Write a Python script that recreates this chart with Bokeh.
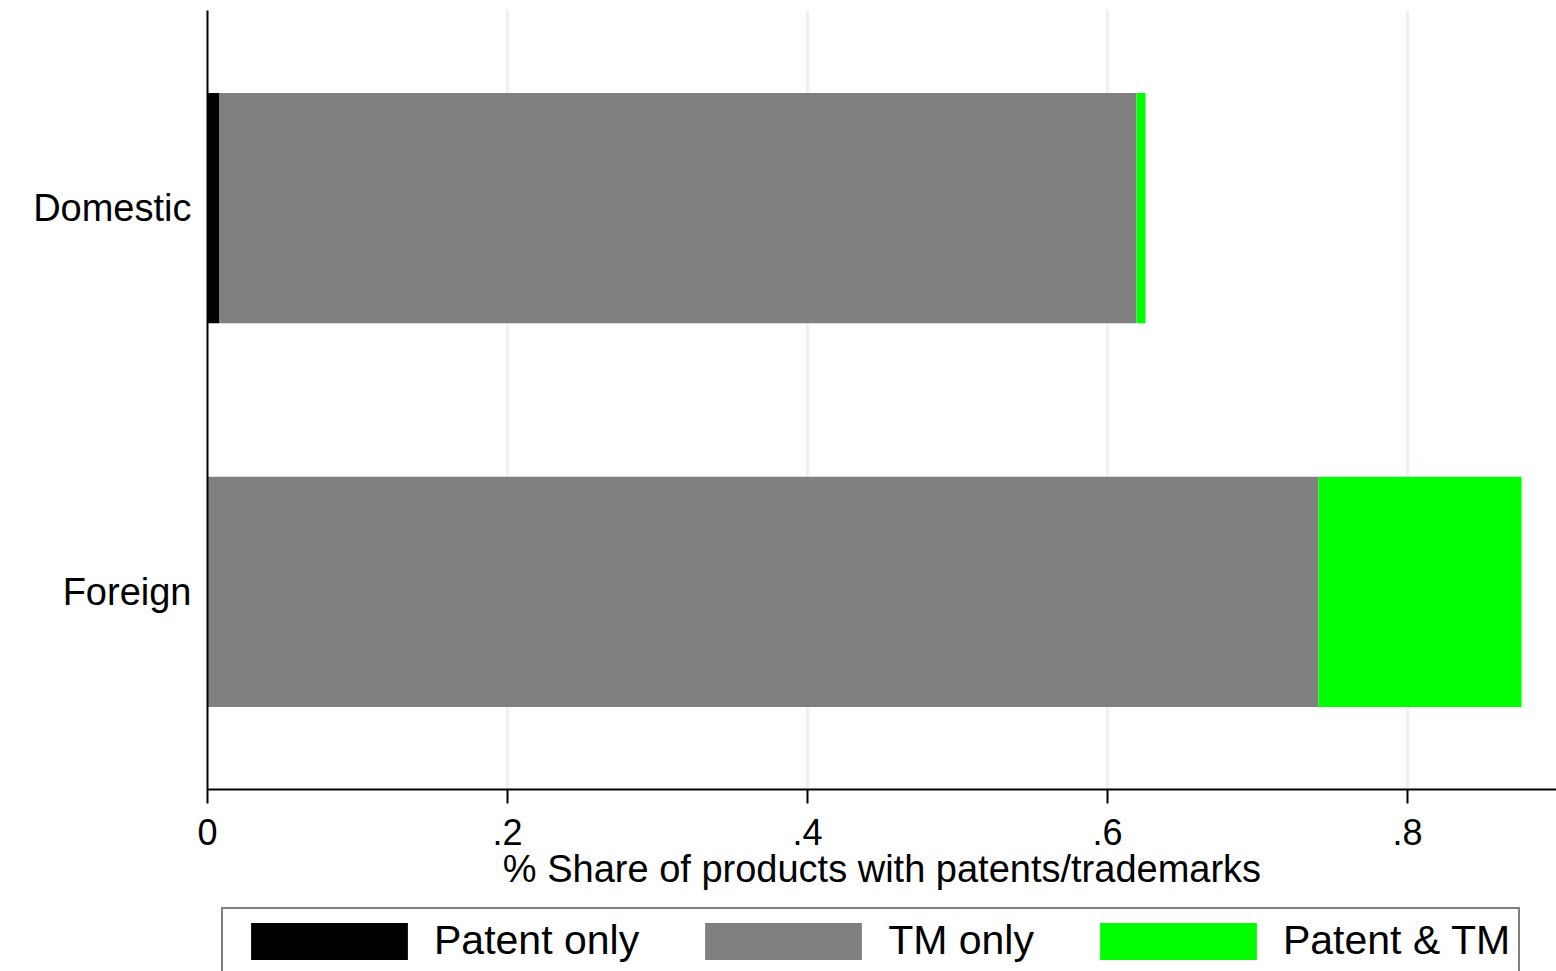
from bokeh.plotting import figure
from bokeh.layouts import column
from bokeh.models import (ColumnDataSource, FactorRange, Range1d, FixedTicker,
                          Legend, LegendItem)
from bokeh.embed import file_html
from bokeh.resources import INLINE

# ---- data ----
categories = ["Domestic", "Foreign"]
patent_only = [0.008, 0.0]
tm_only = [0.6113, 0.7407]
patent_and_tm = [0.006, 0.1353]
series_names = ["Patent only", "TM only", "Patent & TM"]
series_colors = ["#000000", "#808080", "#00ff00"]
x_ticks = [0, 0.2, 0.4, 0.6, 0.8]
x_tick_labels = ["0", ".2", ".4", ".6", ".8"]
x_title = "% Share of products with patents/trademarks"

FONT = "Liberation Sans"
W = 1556
H_MAIN = 907
H_LEG = 64

source = ColumnDataSource(dict(
    cat=categories,
    **{series_names[0]: patent_only,
       series_names[1]: tm_only,
       series_names[2]: patent_and_tm}
))

p = figure(
    width=W, height=H_MAIN,
    x_range=Range1d(0, 0.8993),
    y_range=FactorRange(factors=["Foreign", "Domestic"], range_padding=0.015),
    output_backend="svg", toolbar_location=None,
    min_border_left=207, min_border_right=0, min_border_top=10,
    min_border_bottom=H_MAIN - 789,
)
p.outline_line_color = None
p.background_fill_color = "white"
p.border_fill_color = "white"

renderers = p.hbar_stack(series_names, y="cat", height=0.6, color=series_colors,
                         line_color=None, source=source)

# x axis
ticker = FixedTicker(ticks=x_ticks)
xa = p.xaxis[0]
xa.ticker = ticker
xa.major_label_overrides = {t: l for t, l in zip(x_ticks, x_tick_labels)}
xa.minor_tick_line_color = None
xa.major_tick_in = 0
xa.major_tick_out = 14
xa.major_tick_line_width = 2
xa.axis_line_width = 2
xa.axis_line_color = "black"
xa.major_tick_line_color = "black"
xa.major_label_text_font = FONT
xa.major_label_text_font_size = "36px"
xa.major_label_text_color = "black"
xa.major_label_standoff = 15
xa.axis_label = x_title
xa.axis_label_text_font = FONT
xa.axis_label_text_font_size = "38px"
xa.axis_label_text_font_style = "normal"
xa.axis_label_text_color = "black"
xa.axis_label_standoff = 0

# y axis
ya = p.yaxis[0]
ya.major_tick_out = 0
ya.major_tick_in = 0
ya.minor_tick_line_color = None
ya.axis_line_width = 2
ya.axis_line_color = "black"
ya.major_label_text_font = FONT
ya.major_label_text_font_size = "38px"
ya.major_label_text_color = "black"
ya.major_label_standoff = 16

# grid
p.ygrid.grid_line_color = None
p.xgrid.ticker = ticker
p.xgrid.grid_line_color = "#eaf2f3"
p.xgrid.grid_line_width = 3

# ---- legend strip (below the axis title) ----
pl = figure(
    width=W, height=H_LEG, x_range=Range1d(0, 1), y_range=Range1d(0, 1),
    output_backend="svg", toolbar_location=None,
    min_border=0, min_border_left=0, min_border_right=0,
    min_border_top=0, min_border_bottom=0,
)
pl.axis.visible = False
pl.grid.visible = False
pl.outline_line_color = None
pl.background_fill_color = "white"
pl.border_fill_color = "white"

leg_items = []
for name, col in zip(series_names, series_colors):
    # swatch-only renderer (its single bar lies outside the visible range)
    r = pl.hbar(y=[-10], left=[0], right=[0.1], height=0.5, color=col, line_color=None)
    leg_items.append(LegendItem(label=name, renderers=[r]))

legend = Legend(
    items=leg_items,
    orientation="horizontal",
    location=(14, -3),
    glyph_width=196, glyph_height=46,
    label_standoff=7, spacing=46, padding=8, margin=0,
    label_text_font=FONT, label_text_font_size="41px", label_text_color="black",
    border_line_color="black", border_line_width=2,
    background_fill_color="white", background_fill_alpha=1.0,
)
pl.add_layout(legend, "center")

layout = column(p, pl, spacing=0)
open("out.html", "w").write(file_html(layout, INLINE))
